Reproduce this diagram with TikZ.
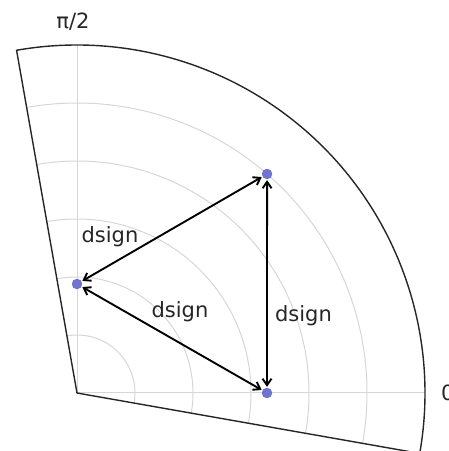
\documentclass[tikz,border=0pt]{standalone}
\usepackage{fontspec}
\setmainfont{DejaVu Sans}
\usetikzlibrary{arrows.meta,calc}
\definecolor{dotblue}{RGB}{112,116,208}
\definecolor{gridgray}{RGB}{214,214,214}
\begin{document}
\begin{tikzpicture}[x=1pt,y=1pt,
  gridline/.style={draw=gridgray,line width=1pt},
  frame/.style={draw=black!85,line width=1.4pt,line join=round},
  pt/.style={circle,fill=dotblue,draw=dotblue!85!black,line width=0.3pt,inner sep=0pt,minimum size=10pt},
  link/.style={draw=black,line width=1.9pt,{Straight Barb[length=6.5pt,width=9pt,line width=1.9pt]}-{Straight Barb[length=6.5pt,width=9pt,line width=1.9pt]},shorten <=1pt,shorten >=1pt},
  lbl/.style={font=\fontsize{21}{25}\selectfont,inner sep=0pt,text=black!85}]
\useasboundingbox (0,0) rectangle (449,451);
\coordinate (O) at (77,58);
% rings
\foreach \r in {58,116,174,232,290}{
  \draw[gridline] ($(O)+(-10:\r)$) arc[start angle=-10,end angle=100,radius=\r];
}
\coordinate (E0) at ($(O)+(0:348)$);
\coordinate (E90) at ($(O)+(90:348)$);
\draw[gridline] (O) -- (E0);
\draw[gridline] (O) -- (E90);
% frame
\coordinate (Rlo) at ($(O)+(-10:348)$);
\draw[frame] (O) -- (Rlo) arc[start angle=-10,end angle=100,radius=348] -- cycle;
% labels
\node[lbl] (t90) at (73,429) {π/2};
\node[lbl,anchor=west] (t0) at (441,58) {0};
% points
\node[pt] (A) at ($(O)+(90:109)$) {};
\node[pt] (B) at ($(O)+(49.05:290)$) {};
\node[pt] (C) at ($(O)+(0:190)$) {};
% arrows
\draw[link] (A) -- (B);
\draw[link] (B) -- (C);
\draw[link] (A) -- (C);
\node[lbl] (l1) at (110,214) {dsign};
\node[lbl] (l2) at (180,139) {dsign};
\node[lbl] (l3) at (303.5,135) {dsign};
\end{tikzpicture}
\end{document}
